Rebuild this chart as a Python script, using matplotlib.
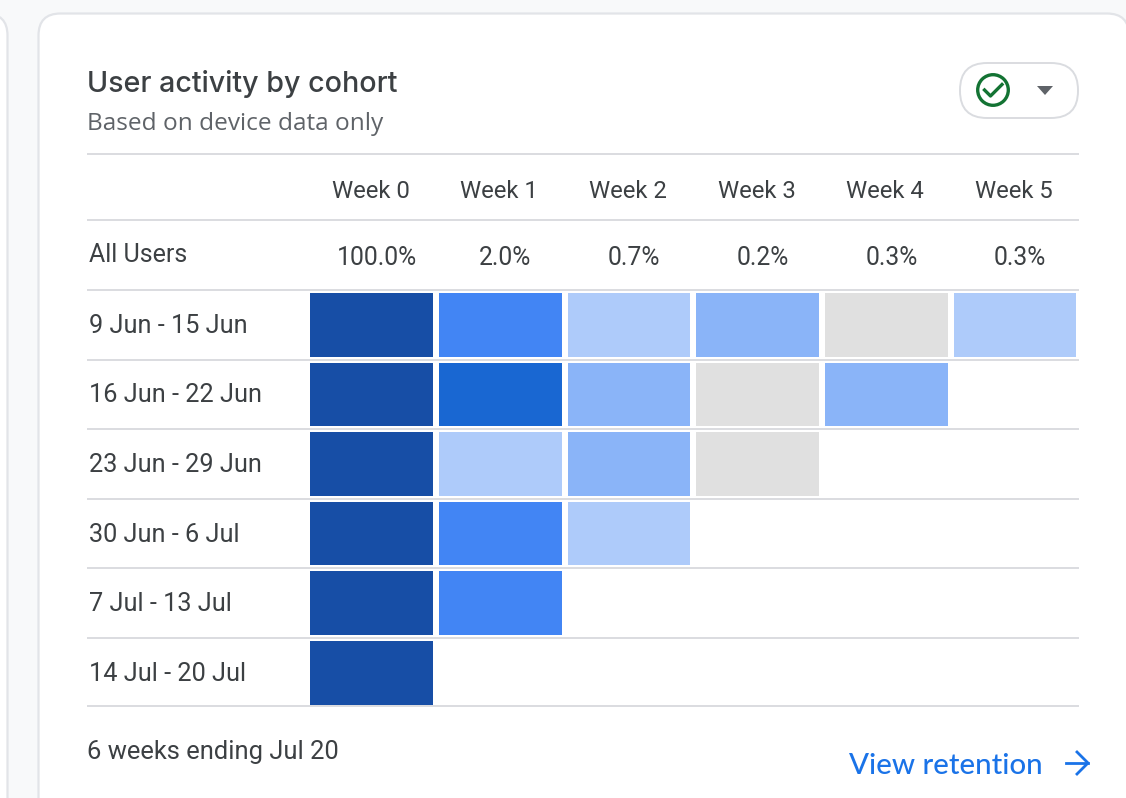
import matplotlib
matplotlib.use("Agg")
import matplotlib.pyplot as plt
import numpy as np
from matplotlib import colors
from matplotlib.patches import Circle, FancyBboxPatch, Polygon

weeks = ["Week 0", "Week 1", "Week 2", "Week 3", "Week 4", "Week 5"]
all_users = ["100.0%", "2.0%", "0.7%", "0.2%", "0.3%", "0.3%"]
cohorts = ["9 Jun - 15 Jun", "16 Jun - 22 Jun", "23 Jun - 29 Jun",
           "30 Jun - 6 Jul", "7 Jul - 13 Jul", "14 Jul - 20 Jul"]

# shade level per cell, 0 is the grey one, nan is empty
levels = [
    [4, 3, 1, 2, 0, 1],
    [4, 5, 2, 0, 2, np.nan],
    [4, 1, 2, 0, np.nan, np.nan],
    [4, 3, 1, np.nan, np.nan, np.nan],
    [4, 3, np.nan, np.nan, np.nan, np.nan],
    [4, np.nan, np.nan, np.nan, np.nan, np.nan],
]
shades = ["#e0e0e0", "#aecbfa", "#8ab4f8", "#4285f4", "#174ea6", "#1967d2"]

W, H = 1126, 798
LINE = "#dadce0"
TEXT = "#3c4043"
GREY = "#5f6368"
BLUE = "#1a73e8"

GRID_X = 307.2
GRID_Y = 290.0
PITCH_X = 128.7
PITCH_Y = 69.6
LEFT = 87
RIGHT = 1079

plt.rcParams["font.family"] = ["Roboto", "DejaVu Sans"]

fig = plt.figure(figsize=(W / 100, H / 100), dpi=100, facecolor="#f8f9fa")
ax = fig.add_axes([0, 0, 1, 1])
ax.set_xlim(0, W)
ax.set_ylim(H, 0)
ax.axis("off")

# neighbouring card on the left and the main card, both run off the picture
for x0, x1 in [(-60, 7.5), (38.5, 1129)]:
    ax.add_patch(FancyBboxPatch((x0 + 22, 13.5 + 22), x1 - x0 - 44, 900,
                                boxstyle="round,pad=22,rounding_size=22",
                                fc="white", ec="#e2e4e8", lw=1.6, zorder=1))

# heatmap
x_edges = GRID_X + PITCH_X * np.arange(len(weeks) + 1)
y_edges = GRID_Y + PITCH_Y * np.arange(len(cohorts) + 1)
cmap = colors.ListedColormap(shades)
norm = colors.BoundaryNorm(np.arange(len(shades) + 1) - 0.5, len(shades))
ax.pcolormesh(x_edges, y_edges, np.ma.masked_invalid(levels), cmap=cmap,
              norm=norm, edgecolors="white", linewidth=4.0, zorder=2)

# rules of the table
rule_ys = [154, 220] + list(y_edges[:-1]) + [706]
for y in rule_ys:
    ax.plot([LEFT, RIGHT], [y, y], color=LINE, lw=1.4, zorder=3,
            solid_capstyle="butt")

# header texts
x_centers = (x_edges[:-1] + x_edges[1:]) / 2
for x, week, share in zip(x_centers, weeks, all_users):
    ax.text(x - 1, 191, week, ha="center", va="center", fontsize=17.2, color=TEXT, zorder=4)
    ax.text(x + 5, 258, share, ha="center", va="center", fontsize=17.8, color=TEXT, zorder=4)
ax.text(89, 255.5, "All Users", ha="left", va="center", fontsize=18, color=TEXT, zorder=4)

y_centers = (y_edges[:-1] + y_edges[1:]) / 2
for y, cohort in zip(y_centers, cohorts):
    ax.text(89, y + 1, cohort, ha="left", va="center", fontsize=18.2, color=TEXT, zorder=4)

ax.text(87, 84.5, "User activity by cohort", ha="left", va="center", fontsize=20.6,
        color=TEXT, family=["Inter", "DejaVu Sans"], fontweight="medium", zorder=4)
ax.text(87, 124, "Based on device data only", ha="left", va="center", fontsize=17.6,
        color=GREY, family=["Open Sans", "DejaVu Sans"], zorder=4)
ax.text(87, 752, "6 weeks ending Jul 20", ha="left", va="center", fontsize=18.4,
        color=TEXT, zorder=4)
ax.text(849, 766, "View retention", ha="left", va="center", fontsize=21.2,
        color=BLUE, family=["Lato", "DejaVu Sans"], fontweight="medium", zorder=4)

# arrow of the link
ax.plot([1066, 1088], [763, 763], color=BLUE, lw=2.0, zorder=4)
ax.plot([1077, 1088, 1077], [752, 763, 774], color=BLUE, lw=2.0, zorder=4)

# status pill
ax.add_patch(FancyBboxPatch((987, 63 + 27), 64, 1,
                            boxstyle="round,pad=27,rounding_size=27",
                            fc="white", ec=LINE, lw=1.4, zorder=3))
ax.add_patch(Circle((993, 90), 15.3, fc="none", ec="#137333", lw=2.4, zorder=4))
ax.plot([984.5, 990.5, 1002], [90, 96, 84.5], color="#137333", lw=2.4, zorder=4)
ax.add_patch(Polygon([[1037, 86], [1053, 86], [1045, 95]], fc=GREY, ec="none", zorder=4))

fig.savefig("out.png", dpi=100, facecolor=fig.get_facecolor())
